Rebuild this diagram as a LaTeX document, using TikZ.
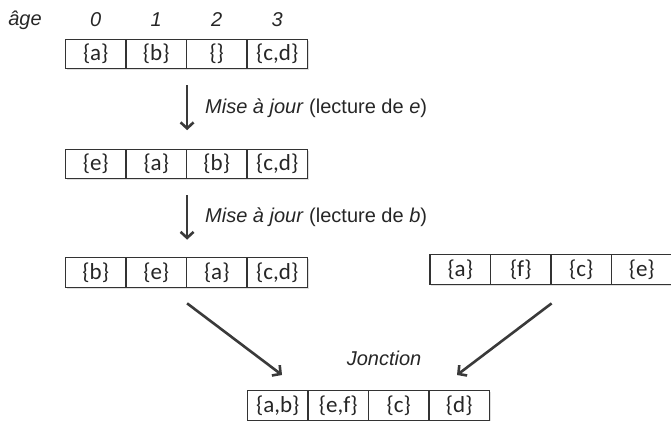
\documentclass[tikz,border=0pt]{standalone}
\usepackage{fontspec}
\setmainfont{Liberation Sans}
\newfontfamily\cellfont{Carlito}
\usetikzlibrary{arrows.meta,shadows}
\definecolor{linegray}{HTML}{333333}
\definecolor{arrowgray}{HTML}{3A3A3A}
\definecolor{textgray}{HTML}{262626}
\begin{document}
\begin{tikzpicture}[x=1pt,y=-1pt,
  cell/.style={draw=linegray, line width=1.2pt, fill=white, minimum width=60.5pt,
    minimum height=29.5pt, inner sep=0pt, text=textgray,
    font=\cellfont\fontsize{23}{26}\selectfont,
    drop shadow={shadow xshift=1.2pt, shadow yshift=-1.6pt, opacity=0.25}},
  lbl/.style={font=\fontsize{20}{24}\selectfont, text=textgray, inner sep=0pt},
  arr/.style={draw=arrowgray, line width=2.6pt,
    -{Straight Barb[length=6pt,width=13pt]}}]
\useasboundingbox (0,0) rectangle (671,420);

% top labels
\node[lbl] (age) at (25,20) {\itshape âge};
\node[lbl] (i0) at (95.75,20) {\itshape 0};
\node[lbl] (i1) at (156.25,20) {\itshape 1};
\node[lbl] (i2) at (216.75,20) {\itshape 2};
\node[lbl] (i3) at (277.25,20) {\itshape 3};

% row 1
\node[cell] (r1c1) at (95.75,54) {\{a\}};
\node[cell] (r1c2) at (156.25,54) {\{b\}};
\node[cell] (r1c3) at (216.75,54) {\{\}};
\node[cell] (r1c4) at (277.25,54) {\{c,d\}};

% row 2
\node[cell] (r2c1) at (95.75,164) {\{e\}};
\node[cell] (r2c2) at (156.25,164) {\{a\}};
\node[cell] (r2c3) at (216.75,164) {\{b\}};
\node[cell] (r2c4) at (277.25,164) {\{c,d\}};

% row 3
\node[cell] (r3c1) at (95.75,272.5) {\{b\}};
\node[cell] (r3c2) at (156.25,272.5) {\{e\}};
\node[cell] (r3c3) at (216.75,272.5) {\{a\}};
\node[cell] (r3c4) at (277.25,272.5) {\{c,d\}};

% right row
\node[cell] (q1) at (460.25,269.5) {\{a\}};
\node[cell] (q2) at (520.75,269.5) {\{f\}};
\node[cell] (q3) at (581.25,269.5) {\{c\}};
\node[cell] (q4) at (641.75,269.5) {\{e\}};

% bottom row
\node[cell] (b1) at (277.75,405.5) {\{a,b\}};
\node[cell] (b2) at (338.25,405.5) {\{e,f\}};
\node[cell] (b3) at (398.75,405.5) {\{c\}};
\node[cell] (b4) at (459.25,405.5) {\{d\}};

% arrows
\draw[arr, shorten <=16pt, shorten >=18.5pt] (r1c2.south east) -- (r2c2.north east);
\draw[arr, shorten <=16pt, shorten >=17.5pt] (r2c2.south east) -- (r3c2.north east);
\coordinate (jl) at (282,375);
\coordinate (jr) at (457,375);
\draw[arr] ([yshift=-15.5pt]r3c2.south east) -- (jl);
\draw[arr] ([yshift=-18.5pt]q2.south east) -- (jr);

% labels
\node[lbl, anchor=west] (m1) at (205,108) {\textit{Mise à jour} (lecture de \textit{e})};
\node[lbl, anchor=west] (m2) at (205,217) {\textit{Mise à jour} (lecture de \textit{b})};
\node[lbl] (jonc) at (384,358) {\itshape Jonction};
\end{tikzpicture}
\end{document}
